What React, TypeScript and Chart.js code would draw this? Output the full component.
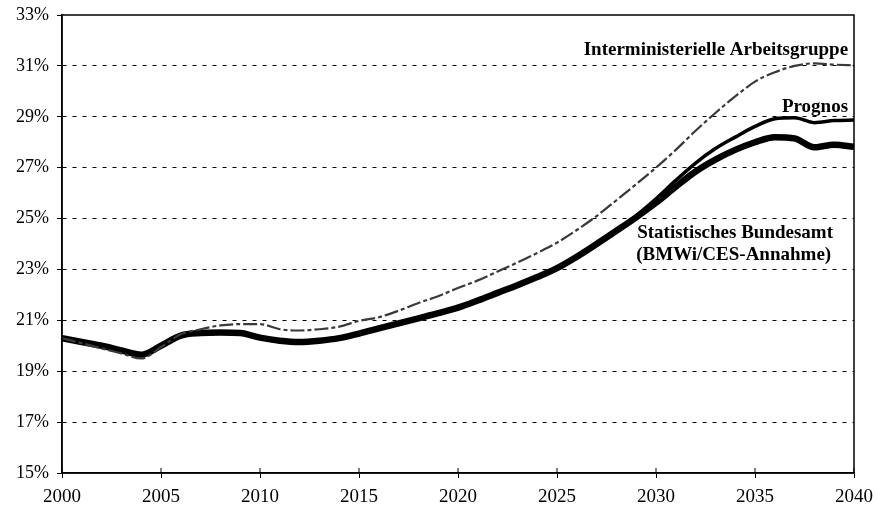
import React, { useEffect, useRef } from "react";
import { Chart, registerables } from "chart.js";

Chart.register(...registerables);

const years: number[] = [];
for (let y = 2000; y <= 2040; y++) years.push(y);

const statBundesamt = [
  20.3, 20.15, 20.0, 19.82, 19.65, 20.0, 20.4, 20.5, 20.52, 20.5,
  20.32, 20.2, 20.15, 20.2, 20.3, 20.48, 20.68, 20.88, 21.08, 21.28,
  21.5, 21.78, 22.08, 22.38, 22.7, 23.05, 23.5, 24.0, 24.52, 25.05,
  25.62, 26.25, 26.85, 27.32, 27.7, 28.0, 28.2, 28.15, 27.8, 27.9, 27.82,
];

const prognos = [
  20.3, 20.15, 20.0, 19.82, 19.65, 20.0, 20.4, 20.5, 20.52, 20.5,
  20.32, 20.2, 20.15, 20.2, 20.3, 20.48, 20.68, 20.88, 21.08, 21.28,
  21.5, 21.78, 22.08, 22.38, 22.7, 23.05, 23.5, 24.0, 24.55, 25.12,
  25.78, 26.5, 27.18, 27.75, 28.2, 28.62, 28.92, 28.96, 28.77, 28.85, 28.87,
];

const interministeriell = [
  20.3, 20.1, 19.9, 19.7, 19.5, 19.95, 20.45, 20.65, 20.8, 20.85,
  20.85, 20.65, 20.6, 20.65, 20.75, 20.98, 21.12, 21.38, 21.68, 21.95,
  22.27, 22.57, 22.92, 23.27, 23.65, 24.05, 24.55, 25.1, 25.72, 26.35,
  27.0, 27.7, 28.45, 29.15, 29.8, 30.38, 30.75, 31.0, 31.1, 31.05, 31.02,
];

const yTicks = [15, 17, 19, 21, 23, 25, 27, 29, 31, 33];
const xTicks = [2000, 2005, 2010, 2015, 2020, 2025, 2030, 2035, 2040];

const labelIMA = "Interministerielle Arbeitsgruppe";
const labelPrognos = "Prognos";
const labelStat1 = "Statistisches Bundesamt";
const labelStat2 = "(BMWi/CES-Annahme)";

const FONT = "'Liberation Serif', 'Times New Roman', serif";

const framePlugin = {
  id: "frameAndLabels",
  afterDatasetsDraw(chart: any) {
    const { ctx, chartArea, scales } = chart;
    const xs = scales.x;
    const ys = scales.y;
    ctx.save();
    ctx.strokeStyle = "#000";
    ctx.lineWidth = 1.5;
    ctx.setLineDash([]);
    ctx.strokeRect(
      chartArea.left,
      chartArea.top,
      chartArea.right - chartArea.left,
      chartArea.bottom - chartArea.top
    );
    // inner tick marks on x axis (crosses)
    ctx.lineWidth = 1;
    ctx.beginPath();
    for (const t of xTicks) {
      const px = xs.getPixelForValue(t);
      ctx.moveTo(px, chartArea.bottom - 5);
      ctx.lineTo(px, chartArea.bottom);
    }
    ctx.stroke();

    ctx.fillStyle = "#000";
    ctx.font = `bold 19px ${FONT}`;
    ctx.textAlign = "right";
    ctx.textBaseline = "middle";
    ctx.fillText(labelIMA, xs.getPixelForValue(2039.7), ys.getPixelForValue(31.62));
    ctx.fillText(labelPrognos, xs.getPixelForValue(2039.7), ys.getPixelForValue(29.4));
    ctx.textAlign = "left";
    ctx.fillText(labelStat1, xs.getPixelForValue(2029.05), ys.getPixelForValue(24.43));
    ctx.fillText(labelStat2, xs.getPixelForValue(2029.0), ys.getPixelForValue(23.57));
    ctx.restore();
  },
};

export default function App() {
  const canvasRef = useRef<HTMLCanvasElement | null>(null);

  useEffect(() => {
    if (!canvasRef.current) return;
    const toPts = (arr: number[]) => arr.map((v, i) => ({ x: years[i], y: v }));
    const chart = new Chart(canvasRef.current, {
      type: "line",
      data: {
        datasets: [
          {
            label: labelIMA,
            data: toPts(interministeriell),
            borderColor: "#3a3a3a",
            borderWidth: 2.2,
            borderDash: [14, 3, 4, 3],
            pointRadius: 0,
            cubicInterpolationMode: "monotone",
            fill: false,
          },
          {
            label: labelPrognos,
            data: toPts(prognos),
            borderColor: "#000",
            borderWidth: 3.5,
            pointRadius: 0,
            cubicInterpolationMode: "monotone",
            fill: false,
          },
          {
            label: labelStat1 + " " + labelStat2,
            data: toPts(statBundesamt),
            borderColor: "#000",
            borderWidth: 6.5,
            pointRadius: 0,
            cubicInterpolationMode: "monotone",
            fill: false,
          },
        ],
      },
      options: {
        animation: false,
        responsive: true,
        maintainAspectRatio: false,
        layout: { padding: { left: 0, right: 23, top: 15, bottom: 0 } },
        plugins: {
          legend: { display: false },
          tooltip: { enabled: false },
        },
        scales: {
          x: {
            type: "linear",
            min: 2000,
            max: 2040,
            afterBuildTicks: (scale: any) => {
              scale.ticks = xTicks.map((v) => ({ value: v }));
            },
            afterFit: (scale: any) => {
              scale.height = 40;
              scale.paddingLeft = 0;
              scale.paddingRight = 0;
            },
            ticks: {
              color: "#000",
              font: { family: FONT, size: 19 },
              padding: 8,
              maxRotation: 0,
              callback: (v: any) => String(v),
            },
            grid: {
              display: true,
              drawOnChartArea: false,
              drawTicks: true,
              tickLength: 5,
              color: "#000",
              lineWidth: 1,
            },
            border: { display: true, color: "#000", width: 1.5 },
          },
          y: {
            type: "linear",
            min: 15,
            max: 33,
            afterBuildTicks: (scale: any) => {
              scale.ticks = yTicks.map((v) => ({ value: v }));
            },
            afterFit: (scale: any) => {
              scale.width = 62;
              scale.paddingTop = 0;
              scale.paddingBottom = 0;
            },
            ticks: {
              color: "#000",
              font: { family: FONT, size: 18 },
              padding: 8,
              callback: (v: any) => v + "%",
            },
            grid: {
              display: true,
              drawTicks: true,
              tickLength: 5,
              color: (c: any) =>
                c.tick && (c.tick.value === 15 || c.tick.value === 33) ? "rgba(0,0,0,0)" : "#000",
              lineWidth: 1,
              tickColor: "#000",
              tickBorderDash: [0, 0],
            } as any,
            border: { display: true, color: "#000", width: 1.5, dash: [4, 6] },
          },
        },
      } as any,
      plugins: [framePlugin],
    });
    return () => chart.destroy();
  }, []);

  return (
    <div
      style={{
        position: "fixed",
        left: 0,
        top: 0,
        width: 877,
        height: 513,
        background: "#fff",
      }}
    >
      <canvas ref={canvasRef} />
    </div>
  );
}
